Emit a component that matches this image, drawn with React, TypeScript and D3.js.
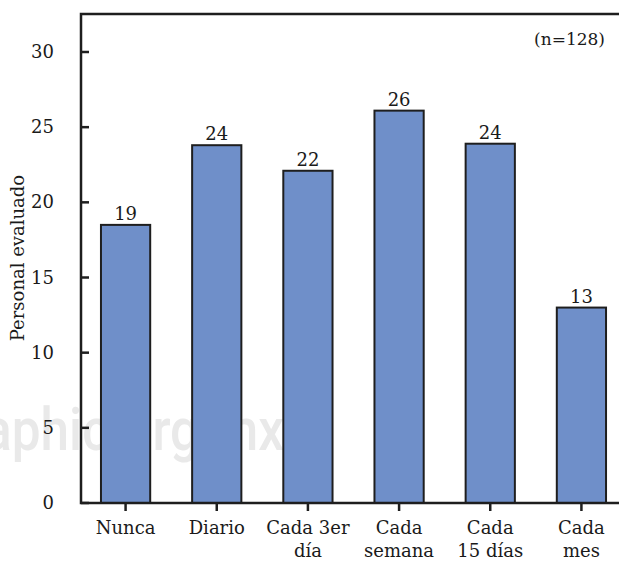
import React from "react";
import * as d3 from "d3";

const categories: string[][] = [
  ["Nunca"],
  ["Diario"],
  ["Cada 3er", "día"],
  ["Cada", "semana"],
  ["Cada", "15 días"],
  ["Cada", "mes"],
];
const values = [18.5, 23.8, 22.1, 26.1, 23.9, 13.0];
const valueLabels = ["19", "24", "22", "26", "24", "13"];
const yTicks = [0, 5, 10, 15, 20, 25, 30];

const W = 619;
const H = 561;
const left = 81;
const top = 14;
const bottom = 503;
const right = 624;
const FONT = "'DejaVu Serif', serif";

export default function App() {
  const x = d3
    .scaleBand<number>()
    .domain(d3.range(categories.length))
    .range([80, 627])
    .paddingInner(0.46)
    .paddingOuter(0.23);
  const y = d3.scaleLinear().domain([0, 30]).range([bottom, 52]);

  return (
    <svg
      width={W}
      height={H}
      style={{ position: "absolute", left: 0, top: 0, background: "#fff" }}
    >
      <rect x={0} y={0} width={W} height={H} fill="#fff" />
      <text
        x={-16}
        y={450}
        textLength={300}
        lengthAdjust="spacingAndGlyphs"
        fontFamily="Roboto, 'Open Sans', sans-serif"
        fontWeight={500}
        fontSize={60}
        fill="#e9e9e9"
      >
        aphic.org.mx
      </text>
      {values.map((v, i) => (
        <g key={i}>
          <rect
            x={x(i)!}
            y={y(v)}
            width={x.bandwidth()}
            height={bottom - y(v)}
            fill="#6f8fc9"
            stroke="#1e1e1e"
            strokeWidth={2}
          />
          <text
            x={x(i)! + x.bandwidth() / 2}
            y={y(v) - 5}
            textAnchor="middle"
            fontFamily={FONT}
            fontSize={18}
            fill="#1a1a1a"
          >
            {valueLabels[i]}
          </text>
        </g>
      ))}
      <path
        d={`M${right},${top}H${left}V${bottom}H${right}`}
        fill="none"
        stroke="#1e1e1e"
        strokeWidth={2.5}
      />
      {yTicks.map((t) => (
        <g key={t}>
          <line x1={left} x2={left + 8} y1={y(t)} y2={y(t)} stroke="#1e1e1e" strokeWidth={2.5} />
          <text
            x={54}
            y={y(t) + 6}
            textAnchor="end"
            fontFamily={FONT}
            fontSize={18}
            fill="#1a1a1a"
          >
            {t}
          </text>
        </g>
      ))}
      {categories.map((lines, i) => {
        const cx = x(i)! + x.bandwidth() / 2;
        return (
          <g key={i}>
            <line x1={cx} x2={cx} y1={bottom} y2={bottom + 8} stroke="#1e1e1e" strokeWidth={2.5} />
            {lines.map((l, j) => (
              <text
                key={j}
                x={cx}
                y={534 + j * 23}
                textAnchor="middle"
                fontFamily={FONT}
                fontSize={18}
                fill="#1a1a1a"
              >
                {l}
              </text>
            ))}
          </g>
        );
      })}
      <text
        x={0}
        y={0}
        transform="translate(24,258) rotate(-90)"
        textAnchor="middle"
        fontFamily={FONT}
        fontSize={18}
        fill="#1a1a1a"
      >
        Personal evaluado
      </text>
      <text
        x={605}
        y={45}
        textAnchor="end"
        fontFamily={FONT}
        fontSize={17}
        fill="#1a1a1a"
      >
        (n=128)
      </text>
    </svg>
  );
}
